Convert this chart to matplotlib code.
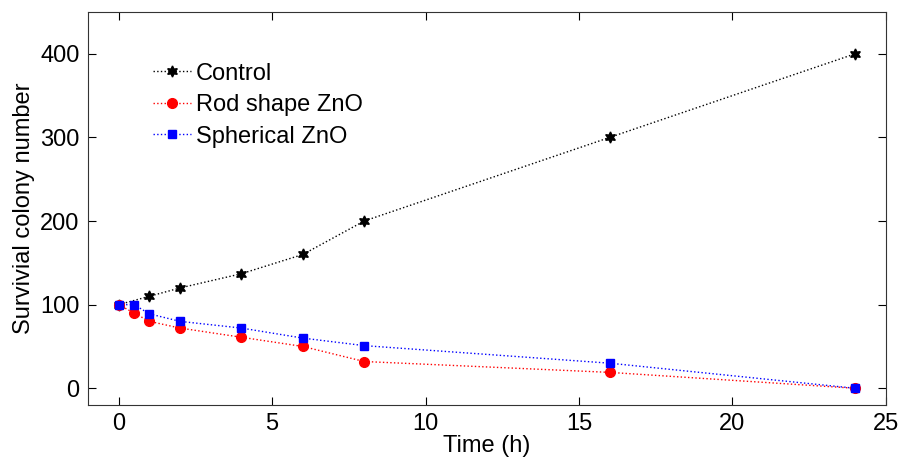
"""
Survival colony number over time for control and ZnO treatments
"""

import matplotlib
matplotlib.use('Agg')
import matplotlib.pyplot as plt

plt.rcParams['font.family'] = ['Liberation Sans', 'DejaVu Sans']

# data
time_control = [0, 1, 2, 4, 6, 8, 16, 24]
control = [100, 110, 120, 137, 160, 200, 300, 400]

time_zno = [0, 0.5, 1, 2, 4, 6, 8, 16, 24]
rod_zno = [100, 90, 80, 72, 61, 50, 32, 19, 0]
spherical_zno = [100, 100, 89, 80, 72, 60, 51, 30, 0]

x_ticks = [0, 5, 10, 15, 20, 25]
y_ticks = [0, 100, 200, 300, 400]

fig = plt.figure(figsize=(9.02, 4.62), dpi=100)
ax = fig.add_axes([0.0976, 0.1234, 0.8844, 0.8506])

ax.plot(time_control, control, linestyle=':', color='black', linewidth=1,
        marker=(6, 1, 0), markersize=8, label='Control')
ax.plot(time_zno, rod_zno, linestyle=':', color='red', linewidth=1,
        marker='o', markersize=7, label='Rod shape ZnO')
ax.plot(time_zno, spherical_zno, linestyle=':', color='blue', linewidth=1,
        marker='s', markersize=6, label='Spherical ZnO')

ax.set_xlim(-1, 25)
ax.set_ylim(-20, 450)
ax.set_xticks(x_ticks)
ax.set_yticks(y_ticks)
ax.tick_params(direction='in', top=True, right=True, labelsize=17, length=6, pad=6)
for spine in ax.spines.values():
    spine.set_color('#333333')

ax.set_xlabel('Time (h)', fontsize=17, labelpad=0)
ax.set_ylabel('Survivial colony number', fontsize=17, labelpad=4)

ax.legend(loc='upper left', bbox_to_anchor=(0.07, 0.895), frameon=False, fontsize=17,
          handlelength=1.6, handletextpad=0.2, labelspacing=0.4, borderaxespad=0)

fig.savefig('out.png', dpi=100)
